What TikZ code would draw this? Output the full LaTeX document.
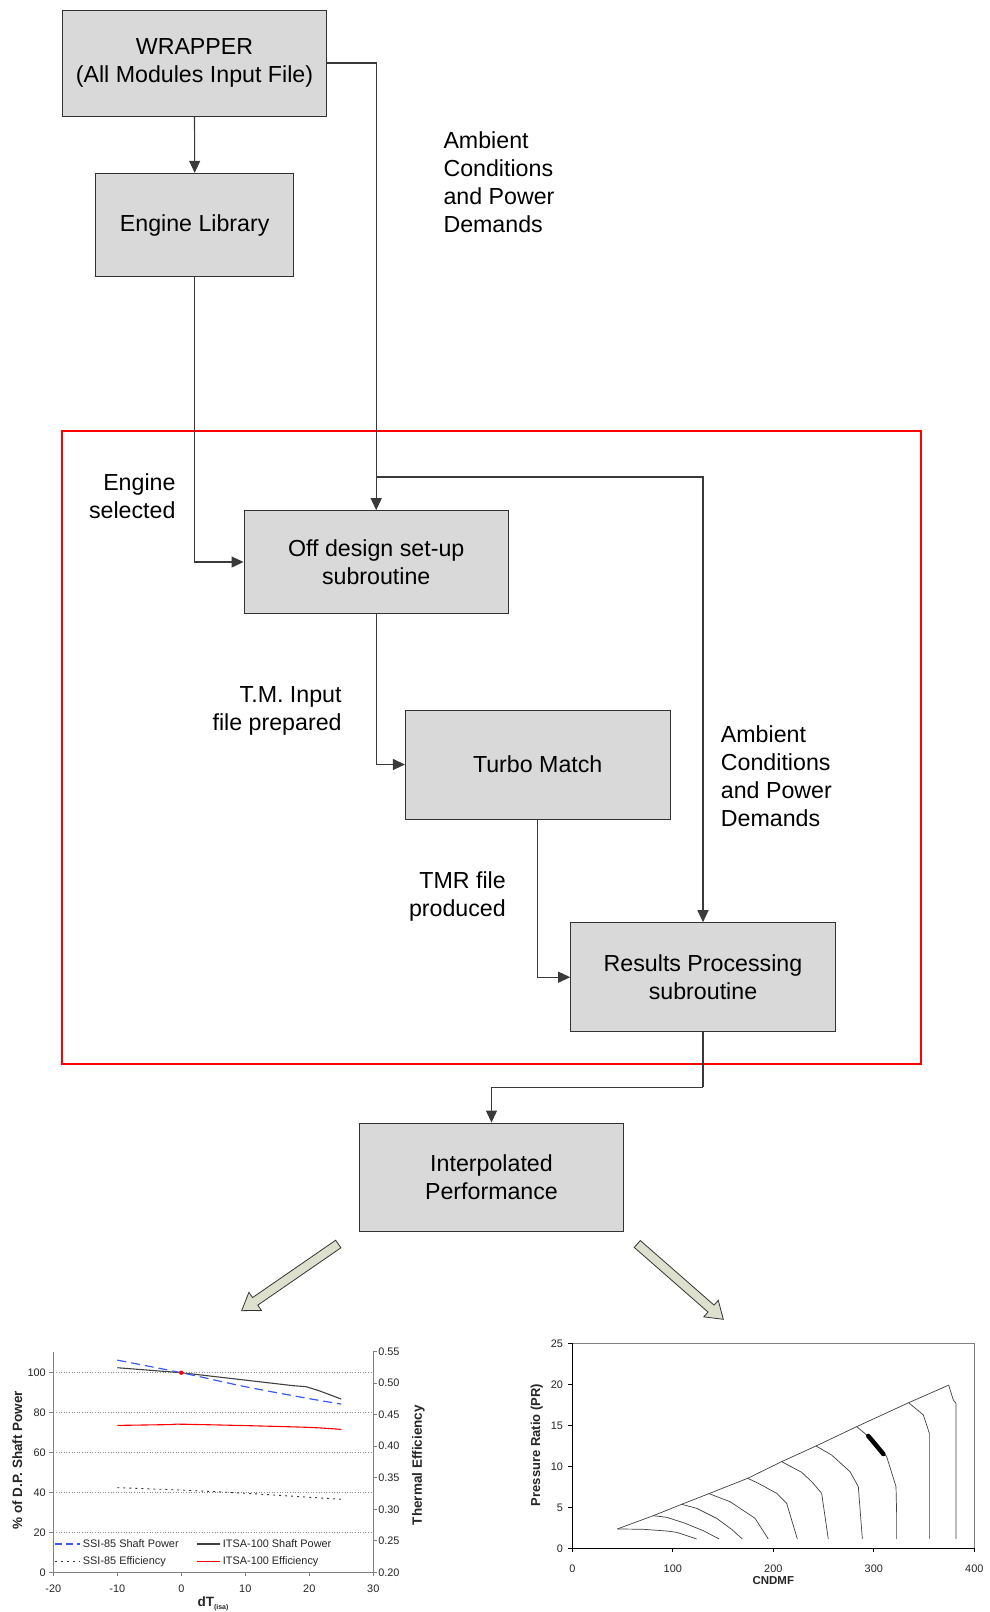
\documentclass[tikz,border=0pt]{standalone}
\usepackage{fontspec}
\setmainfont{Liberation Sans}
\usetikzlibrary{arrows.meta}
\definecolor{boxfill}{HTML}{D9D9D9}
\definecolor{boxline}{HTML}{333333}
\definecolor{connc}{HTML}{3A3A3A}
\definecolor{arrfill}{HTML}{DDE0CC}
\definecolor{ssiblue}{HTML}{3A5BF0}
\definecolor{axgray}{HTML}{808080}
\begin{document}
\begin{tikzpicture}[x=1pt,y=-1pt,
  proc/.style={draw=boxline, fill=boxfill, line width=1pt, inner sep=0pt, align=center,
    font=\fontsize{23.2}{28}\selectfont},
  lbl/.style={inner sep=0pt, font=\fontsize{23.2}{28}\selectfont},
  conn/.style={draw=connc, line width=1.1pt, -{Triangle[length=12pt,width=11pt]}},
  plain/.style={draw=connc, line width=1.1pt},
  blk/.style={draw=boxline, fill=arrfill, line width=0.8pt, line join=miter},
  tickf/.style={inner sep=0pt, font=\fontsize{10.9}{13}\selectfont, text=black!85},
  axtitle/.style={inner sep=0pt, font=\fontsize{13.5}{16}\selectfont\bfseries, text=black!85},
  curve/.style={draw=black!75, line width=0.7pt}
]
\useasboundingbox (0,0) rectangle (989,1612);
\fill[white] (0,0) rectangle (989,1612);

% red frame
\draw[red, line width=2.2pt] (62.3,430.7) rectangle (921,1064);

% boxes
\node[proc, minimum width=264.4pt, minimum height=106pt] (wrap) at (194.5,63) {WRAPPER\\(All Modules Input File)};
\node[proc, minimum width=198pt, minimum height=103.4pt] (lib) at (194.7,225) {Engine Library};
\node[proc, minimum width=264.3pt, minimum height=102.6pt] (off) at (376.2,562) {Off design set-up\\subroutine};
\node[proc, minimum width=264.6pt, minimum height=109pt] (tm) at (537.7,764.5) {Turbo Match};
\node[proc, minimum width=264.6pt, minimum height=109pt] (res) at (703,977.2) {Results Processing\\subroutine};
\node[proc, minimum width=264.4pt, minimum height=108.3pt] (interp) at (491.5,1177.2) {Interpolated\\Performance};

% labels
\node[lbl, anchor=west, align=left] (amb1) at (443.3,182.5) {Ambient\\Conditions\\and Power\\Demands};
\node[lbl, anchor=east, align=right] (esel) at (175.7,496.4) {Engine\\selected};
\node[lbl, anchor=east, align=right] (tmin) at (341.8,711.3) {T.M. Input\\file prepared};
\node[lbl, anchor=east, align=right] (tmr) at (506,896.2) {TMR file\\produced};
\node[lbl, anchor=west, align=left] (amb2) at (720.7,776.2) {Ambient\\Conditions\\and Power\\Demands};

% connectors
\coordinate (br) at (376.2,477);
\coordinate (bend) at (703,1087.3);
\draw[conn] (wrap.south) -- (lib.north);
\draw[conn] (wrap.east) -| (off.north);
\draw[conn] (br) -| (res.north);
\draw[conn] (lib.south) |- (off.west);
\draw[conn] (off.south) |- (tm.west);
\draw[conn] (tm.south) |- (res.west);
\draw[plain] (res.south) -- (bend);
\draw[conn] (bend) -| (interp.north);

% block arrows
\begin{scope}[shift={(338.3,1244)}, rotate=214.6]
  \draw[blk] (0,4.6) -- (101,4.6) -- (101,11) -- (117.4,0) -- (101,-11) -- (101,-4.6) -- (0,-4.6) -- cycle;
\end{scope}
\begin{scope}[shift={(637.3,1244)}, rotate=-41.2]
  \draw[blk] (0,4.6) -- (98,4.6) -- (98,11) -- (114.3,0) -- (98,-11) -- (98,-4.6) -- (0,-4.6) -- cycle;
\end{scope}

% ---------- left chart ----------
\begin{scope}[shift={(181.3,1572.3)}, x=6.4pt, y=1.996pt]
  \foreach \v in {20,40,60,80,100} \draw[black!45, dotted, line width=0.6pt] (-20,\v) -- (30,\v);
  \draw[axgray, line width=0.8pt] (-20,110.55) -- (-20,0) -- (30,0) -- (30,110.55);
  \foreach \v in {0,20,40,60,80,100} {
    \draw[axgray, line width=0.8pt] (-20,\v) -- (-20.6,\v);
    \node[tickf, anchor=east] at (-21.14,\v) {\v};
  }
  \foreach \v in {-20,-10,0,10,20,30} {
    \draw[axgray, line width=0.8pt] (\v,0) -- (\v,-2);
    \node[tickf] at (\v,-8) {\v};
  }
  \foreach \i/\l in {0/0.20,1/0.25,2/0.30,3/0.35,4/0.40,5/0.45,6/0.50,7/0.55} {
    \draw[axgray, line width=0.8pt] (30,\i*15.793) -- (30.6,\i*15.793);
    \node[tickf, anchor=west] at (30.75,\i*15.793) {\l};
  }
  % curves
  \draw[black!80, line width=0.9pt, dash pattern=on 2pt off 4pt] plot[smooth] coordinates {(-10,42.4) (0,41.2) (10,39.6) (20,37.6) (25,36.6)};
  \draw[red, line width=1.1pt] plot[smooth] coordinates {(-10,73.6) (-2,74) (0,74.2) (10,73.5) (20,72.6) (25,71.6)};
  \draw[black!75, line width=1.1pt] plot coordinates {(-10,102.5) (0,100) (10,96.3) (17.5,93.5) (19.5,93) (21.5,91) (25,86.8)};
  \draw[ssiblue, line width=1.2pt, dash pattern=on 9pt off 5pt] plot[smooth] coordinates {(-10,106.3) (0,100) (10,93) (20,87) (25,84.3)};
  \fill[red] (0,100) circle[radius=2.2pt];
  % legend
  \draw[ssiblue, line width=1.1pt, dash pattern=on 7pt off 4pt] (-19.73,14.2) -- (-15.83,14.2);
  \node[tickf, anchor=west] at (-15.4,14.2) {SSI-85 Shaft Power};
  \draw[black!75, line width=1.1pt] (2.4,14.2) -- (6.05,14.2);
  \node[tickf, anchor=west] at (6.47,14.2) {ITSA-100 Shaft Power};
  \draw[black!80, line width=0.9pt, dash pattern=on 2pt off 4pt] (-19.73,5.3) -- (-15.83,5.3);
  \node[tickf, anchor=west] at (-15.4,5.3) {SSI-85 Efficiency};
  \draw[red, line width=1.1pt] (2.4,5.3) -- (6.05,5.3);
  \node[tickf, anchor=west] at (6.47,5.3) {ITSA-100 Efficiency};
\end{scope}
\node[axtitle, rotate=90] (lyl) at (17.3,1460) {\% of D.P. Shaft Power};
\node[axtitle, rotate=90] (ryl) at (418.3,1465) {Thermal Efficiency};
\node[axtitle] (lxl) at (213,1604) {dT\raisebox{-2.5pt}{\fontsize{7}{8}\selectfont (isa)}};

% ---------- right chart ----------
\begin{scope}[shift={(572.3,1548.3)}, x=1.005pt, y=8.2pt]
  \draw[axgray, line width=0.8pt] (0,25) -- (400,25) -- (400,0);
  \draw[black, line width=0.9pt] (0,25) -- (0,0) -- (400,0);
  \foreach \v in {0,5,10,15,20,25} {
    \draw[black, line width=0.8pt] (0,\v) -- (-4,\v);
    \node[tickf, anchor=east] at (-9,\v) {\v};
  }
  \foreach \v in {0,100,200,300,400} {
    \draw[black, line width=0.8pt] (\v,0) -- (\v,-0.5);
    \node[tickf] at (\v,-2.44) {\v};
  }
  % surge line
  \draw[curve] (44.8,2.36) -- (80.6,3.98) -- (108.8,5.37) -- (136,6.67) -- (174.5,8.54) -- (208.3,10.57) -- (242.5,12.48) -- (283,14.84) -- (334.7,17.76) -- (374.5,19.9);
  % speed lines
  \draw[curve] (44.8,2.36) -- (70.7,2.32) -- (93.9,2.11) -- (103.8,1.95) -- (123.7,1.14);
  \draw[curve] (80.6,3.98) -- (93.9,3.78) -- (110.5,3.13) -- (130.4,2.15) -- (146,1.14);
  \draw[curve] (108.8,5.37) -- (123.7,4.88) -- (143.6,3.66) -- (158.5,2.32) -- (169.2,1.14);
  \draw[curve] (136,6.67) -- (156.9,5.69) -- (181.8,3.66) -- (195,1.14);
  \draw[curve] (174.5,8.54) -- (185.1,7.93) -- (203.3,6.71) -- (213.3,5.49) -- (223.9,1.14);
  \draw[curve] (208.3,10.57) -- (228.2,9.27) -- (238.2,8.13) -- (248.1,6.71) -- (254.7,1.14);
  \draw[curve] (242.5,12.48) -- (258,11.38) -- (276.3,9.35) -- (284.6,7.52) -- (288.6,1.14);
  \draw[curve] (283,14.84) -- (292.9,13.82) -- (312.8,11.18) -- (322.1,7.52) -- (322.7,4.27) -- (322.7,1.14);
  \draw[curve] (334.7,17.76) -- (349.3,16.26) -- (355.3,14.02) -- (355.3,1.14);
  \draw[curve] (374.5,19.9) -- (379.1,18.09) -- (381.8,17.68) -- (381.8,1.14);
  \draw[black, line width=4.5pt, line cap=round] (294.5,13.7) -- (299,13.05) -- (309.5,11.5);
\end{scope}
\node[axtitle, font=\fontsize{11.5}{14}\selectfont\bfseries] (rxl) at (773.3,1581) {CNDMF};
\node[axtitle, rotate=90, font=\fontsize{13}{15}\selectfont\bfseries] (ryl2) at (536.7,1445) {Pressure Ratio (PR)};
\end{tikzpicture}
\end{document}
